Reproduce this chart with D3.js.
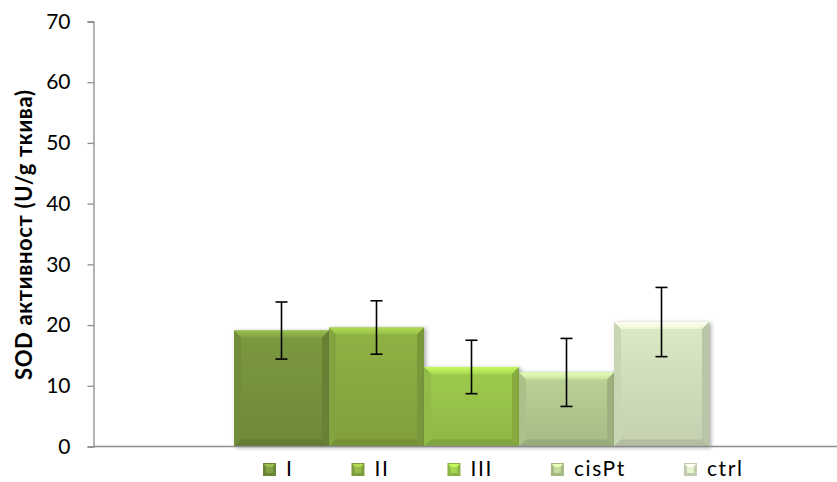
<!DOCTYPE html>
<html>
<head>
<meta charset="utf-8">
<script src="https://cdn.jsdelivr.net/npm/d3@7"></script>
<style>
  html, body { margin: 0; padding: 0; background: #fff; }
  svg { display: block; font-family: Lato, "Liberation Sans", sans-serif; }
</style>
</head>
<body>
<svg id="chart" width="837" height="482"></svg>
<script>
// SOD activity per group, with standard deviation
const groups = ["I", "II", "III", "cisPt", "ctrl"];
const values = [19.1, 19.6, 13.1, 12.2, 20.5];
const errors = [4.7, 4.4, 4.4, 5.6, 5.7];
const yTicks = [0, 10, 20, 30, 40, 50, 60, 70];
const yTitle = "SOD активност (U/g ткива)";

// base fill colour of each group
const baseColors = ["#76933c", "#89ab42", "#98c34a", "#b3c98f", "#d2dfbd"];

const svg = d3.select("#chart");
const W = 837;
const axisX = 93.5;

const y = d3.scaleLinear().domain([0, 70]).range([446.5, 21.5]);
const x = d3.scaleBand().domain(groups).range([234, 709]).paddingInner(0).paddingOuter(0);

const defs = svg.append("defs");
groups.forEach((g, i) => {
  const c = d3.color(baseColors[i]);
  const grad = defs.append("linearGradient").attr("id", "g" + i)
    .attr("x1", 0).attr("x2", 0).attr("y1", 0).attr("y2", 1);
  grad.append("stop").attr("offset", 0).attr("stop-color", c.brighter(0.12));
  grad.append("stop").attr("offset", 1).attr("stop-color", c.darker(0.2));
  const top = defs.append("linearGradient").attr("id", "t" + i)
    .attr("x1", 0).attr("x2", 0).attr("y1", 0).attr("y2", 1);
  top.append("stop").attr("offset", 0).attr("stop-color", c.brighter(0.7));
  top.append("stop").attr("offset", 1).attr("stop-color", c.brighter(0.3));
});
const shadow = defs.append("filter").attr("id", "shadow")
  .attr("x", "-10%").attr("y", "-10%").attr("width", "130%").attr("height", "130%");
shadow.append("feGaussianBlur").attr("in", "SourceAlpha").attr("stdDeviation", 2);
shadow.append("feOffset").attr("dx", 2).attr("dy", 1).attr("result", "b");
shadow.append("feComponentTransfer").append("feFuncA").attr("type", "linear").attr("slope", 0.35);
const merge = shadow.append("feMerge");
merge.append("feMergeNode");
merge.append("feMergeNode").attr("in", "SourceGraphic");

// y axis
const yAxis = svg.append("g").attr("transform", `translate(${axisX},0)`)
  .call(d3.axisLeft(y).tickValues(yTicks).tickSize(6).tickPadding(17).tickFormat(d3.format("d")));
yAxis.select(".domain").attr("stroke", "#8c8c8c").attr("stroke-width", 1.3);
yAxis.selectAll(".tick line").attr("stroke", "#8c8c8c").attr("stroke-width", 1.3);
yAxis.selectAll(".tick text").attr("font-size", 21).attr("fill", "#000")
  .attr("font-family", "Lato, sans-serif");

// bars with bevelled edges
const bars = svg.append("g");
groups.forEach((g, i) => {
  const x0 = x(g), w = x.bandwidth(), y0 = y(values[i]), y1 = y(0), h = y1 - y0;
  const c = d3.color(baseColors[i]);
  const bv = 7;
  const gg = bars.append("g").attr("filter", "url(#shadow)");
  gg.append("rect").attr("x", x0).attr("y", y0).attr("width", w).attr("height", h)
    .attr("fill", `url(#g${i})`);
  gg.append("path").attr("d", `M${x0},${y0}L${x0 + w},${y0}L${x0 + w - bv},${y0 + bv}L${x0 + bv},${y0 + bv}Z`)
    .attr("fill", `url(#t${i})`);
  gg.append("path").attr("d", `M${x0},${y0}L${x0 + bv},${y0 + bv}L${x0 + bv},${y1 - bv}L${x0},${y1}Z`)
    .attr("fill", c.darker(0.12));
  gg.append("path").attr("d", `M${x0 + w},${y0}L${x0 + w - bv},${y0 + bv}L${x0 + w - bv},${y1 - bv}L${x0 + w},${y1}Z`)
    .attr("fill", c.darker(0.35));
  gg.append("path").attr("d", `M${x0},${y1}L${x0 + bv},${y1 - bv}L${x0 + w - bv},${y1 - bv}L${x0 + w},${y1}Z`)
    .attr("fill", c.darker(0.45));
});

// x axis line
svg.append("line").attr("x1", axisX).attr("x2", W).attr("y1", y(0)).attr("y2", y(0))
  .attr("stroke", "#8c8c8c").attr("stroke-width", 1.5);

// error bars
const eb = svg.append("g").attr("stroke", "#000").attr("stroke-width", 1.6);
groups.forEach((g, i) => {
  const cx = x(g) + x.bandwidth() / 2;
  const top = y(values[i] + errors[i]), bot = y(values[i] - errors[i]);
  eb.append("line").attr("x1", cx).attr("x2", cx).attr("y1", top).attr("y2", bot);
  eb.append("line").attr("x1", cx - 6).attr("x2", cx + 6).attr("y1", top).attr("y2", top);
  eb.append("line").attr("x1", cx - 6).attr("x2", cx + 6).attr("y1", bot).attr("y2", bot);
});

// y axis title
svg.append("text").attr("transform", `translate(32,${(y(0) + y(70)) / 2 + 1}) rotate(-90)`)
  .attr("text-anchor", "middle").attr("font-weight", "bold").attr("font-size", 22)
  .attr("textLength", 290).attr("lengthAdjust", "spacing")
  .text(yTitle);

// legend: entries laid out one after another
const lg = svg.append("g");
let lx = 263;
const ly = 463;
groups.forEach((g, i) => {
  const c = d3.color(baseColors[i]);
  lg.append("rect").attr("x", lx).attr("y", ly).attr("width", 13).attr("height", 13)
    .attr("fill", c.darker(0.25));
  lg.append("path").attr("d", `M${lx + 1},${ly + 1}L${lx + 12},${ly + 1}L${lx + 9},${ly + 5}L${lx + 4},${ly + 5}Z`)
    .attr("fill", c.brighter(0.7));
  lg.append("rect").attr("x", lx + 3).attr("y", ly + 4).attr("width", 7).attr("height", 6)
    .attr("fill", c.brighter(0.25));
  const t = lg.append("text").attr("x", lx + 23).attr("y", ly + 13).attr("font-size", 21)
    .attr("letter-spacing", 1.6).attr("fill", "#000").text(g);
  lx = lx + 23 + t.node().getComputedTextLength() + 58;
});
</script>
</body>
</html>
